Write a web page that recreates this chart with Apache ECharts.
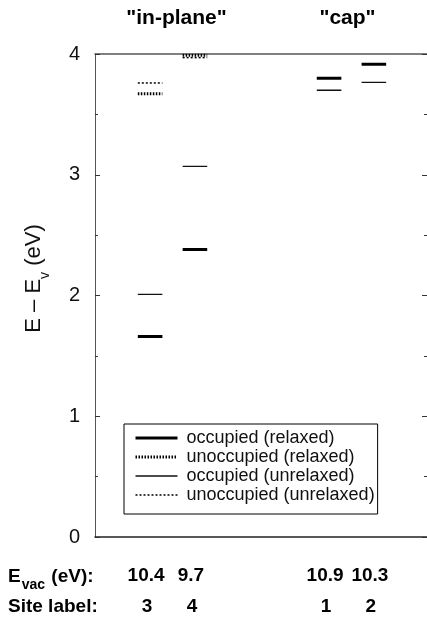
<!DOCTYPE html>
<html><head><meta charset="utf-8">
<script src="https://cdn.jsdelivr.net/npm/echarts@6/dist/echarts.min.js"></script>
<style>html,body{margin:0;padding:0;background:#fff}#c{width:427px;height:624px}</style>
</head><body><div id="c"></div>
<script>
// ---- data ----
const siteLabels = ['3', '4', '1', '2'];
const evacValues = ['10.4', '9.7', '10.9', '10.3'];
const groupLabels = ['"in-plane"', '"cap"'];
const yTickValues = [0, 1, 2, 3, 4];
const occupiedRelaxed     = [1.66, 2.38, 3.80, 3.915];
const unoccupiedRelaxed   = [3.67, 3.99, null, null];
const occupiedUnrelaxed   = [2.01, 3.07, 3.70, 3.765];
const unoccupiedUnrelaxed = [3.76, 3.97, null, null];

// ---- layout ----
const siteX = [1.66, 3.01, 7.05, 8.40];
const halfW = 0.37;
const FONT = '"Liberation Sans", Arial, Helvetica, sans-serif';

const kinds = [
  {name: 'occupied (relaxed)', vals: occupiedRelaxed, ls: {color: '#000', width: 3, type: 'solid'}},
  {name: 'unoccupied (relaxed)', vals: unoccupiedRelaxed, ls: {color: '#000', width: 3, type: [1.5, 1.5]}},
  {name: 'occupied (unrelaxed)', vals: occupiedUnrelaxed, ls: {color: '#111', width: 1.3, type: 'solid'}},
  {name: 'unoccupied (unrelaxed)', vals: unoccupiedUnrelaxed, ls: {color: '#000', width: 1.5, type: [2, 2]}}
];

const series = [];
kinds.forEach(k => {
  k.vals.forEach((v, i) => {
    if (v === null) return;
    series.push({
      type: 'line', name: k.name, symbol: 'none', silent: true, animation: false,
      lineStyle: k.ls, itemStyle: {color: k.ls.color, opacity: 0},
      data: [[siteX[i] - halfW, v], [siteX[i] + halfW, v]]
    });
  });
});

const tickStyle = {color: '#333', width: 1};
const chart = echarts.init(document.getElementById('c'), null, {renderer: 'canvas'});
chart.setOption({
  animation: false,
  backgroundColor: '#fff',
  textStyle: {fontFamily: FONT},
  grid: {left: 95, right: 0, top: 54, bottom: 87},
  xAxis: [
    {type: 'value', min: 0, max: 10, position: 'bottom',
     axisLine: {show: true, onZero: false, lineStyle: {color: '#222', width: 1.5}},
     axisTick: {show: false}, axisLabel: {show: false}, splitLine: {show: false}},
    {type: 'value', min: 0, max: 10, position: 'top',
     axisLine: {show: true, onZero: false, lineStyle: {color: '#555', width: 1.5}},
     axisTick: {show: false}, axisLabel: {show: false}, splitLine: {show: false}}
  ],
  yAxis: [
    {type: 'value', min: 0, max: 4, interval: 1, position: 'left',
     name: '{a|E – E}{s|v}{a| (eV)}', nameLocation: 'middle', nameGap: 50, nameRotate: 90,
     nameTextStyle: {padding: [0, 0, 0, 34],
                     rich: {a: {fontSize: 22, fontFamily: FONT, color: '#111'},
                            s: {fontSize: 14, fontFamily: FONT, color: '#111', verticalAlign: 'bottom', padding: [0,0,-7,0]}}},
     axisLine: {show: true, onZero: false, lineStyle: {color: '#555', width: 1}},
     axisTick: {show: true, inside: true, length: 5, lineStyle: tickStyle},
     minorTick: {show: true, splitNumber: 2, length: 3, lineStyle: tickStyle},
     axisLabel: {margin: 15, fontSize: 20, color: '#111', fontFamily: FONT,
                 formatter: v => yTickValues.includes(v) ? String(v) : ''},
     splitLine: {show: false}},
    {type: 'value', min: 0, max: 4, interval: 1, position: 'right',
     axisLine: {show: false, onZero: false},
     axisTick: {show: true, inside: true, length: 5, lineStyle: tickStyle},
     minorTick: {show: true, splitNumber: 2, length: 3, lineStyle: tickStyle},
     axisLabel: {show: false}, splitLine: {show: false}}
  ],
  legend: {
    orient: 'vertical', left: 124, top: 424,
    data: kinds.map(k => ({name: k.name, lineStyle: {width: k.ls.width, type: k.ls.type, color: k.ls.color}})),
    itemWidth: 42, itemHeight: 10, itemGap: 1,
    padding: [5, 3, 10, 10],
    borderColor: '#000', borderWidth: 1, backgroundColor: '#fff',
    selectedMode: false,
    itemStyle: {opacity: 0},
    textStyle: {fontSize: 18, lineHeight: 18, color: '#111', fontFamily: FONT, padding: [0, 0, 0, 4]}
  },
  series: series
});

const px = v => chart.convertToPixel({xAxisIndex: 0}, v);
const graphics = [];
const boldNum = {fontSize: 19, fontWeight: 'bold', fontFamily: FONT, fill: '#000'};
siteLabels.forEach((s, i) => {
  graphics.push({type: 'text', x: px(siteX[i]) - 4, y: 576,
    style: Object.assign({text: evacValues[i], align: 'center', verticalAlign: 'middle'}, boldNum)});
  graphics.push({type: 'text', x: px(siteX[i]) - 3, y: 607,
    style: Object.assign({text: s, align: 'center', verticalAlign: 'middle'}, boldNum)});
});
const headStyle = {align: 'center', verticalAlign: 'middle', fontSize: 21, fontWeight: 'bold', fontFamily: FONT, fill: '#000'};
graphics.push({type: 'text', x: px((siteX[0] + siteX[1]) / 2) + 4, y: 18,
  style: Object.assign({text: groupLabels[0]}, headStyle)});
graphics.push({type: 'text', x: px((siteX[2] + siteX[3]) / 2) - 4, y: 18,
  style: Object.assign({text: groupLabels[1]}, headStyle)});
graphics.push({type: 'text', x: 8, y: 577,
  style: {text: '{b|E}{s|vac}{b| (eV):}', verticalAlign: 'middle', fontFamily: FONT,
    rich: {b: {fontSize: 19, fontWeight: 'bold', fontFamily: FONT, color: '#000'},
           s: {fontSize: 14, fontWeight: 'bold', fontFamily: FONT, color: '#000', verticalAlign: 'bottom', padding: [0, 1, -6, 1]}}}});
graphics.push({type: 'text', x: 8, y: 607,
  style: {text: 'Site label:', verticalAlign: 'middle', fontSize: 19, fontWeight: 'bold', fontFamily: FONT, fill: '#000'}});
chart.setOption({graphic: graphics});
</script>
</body></html>
